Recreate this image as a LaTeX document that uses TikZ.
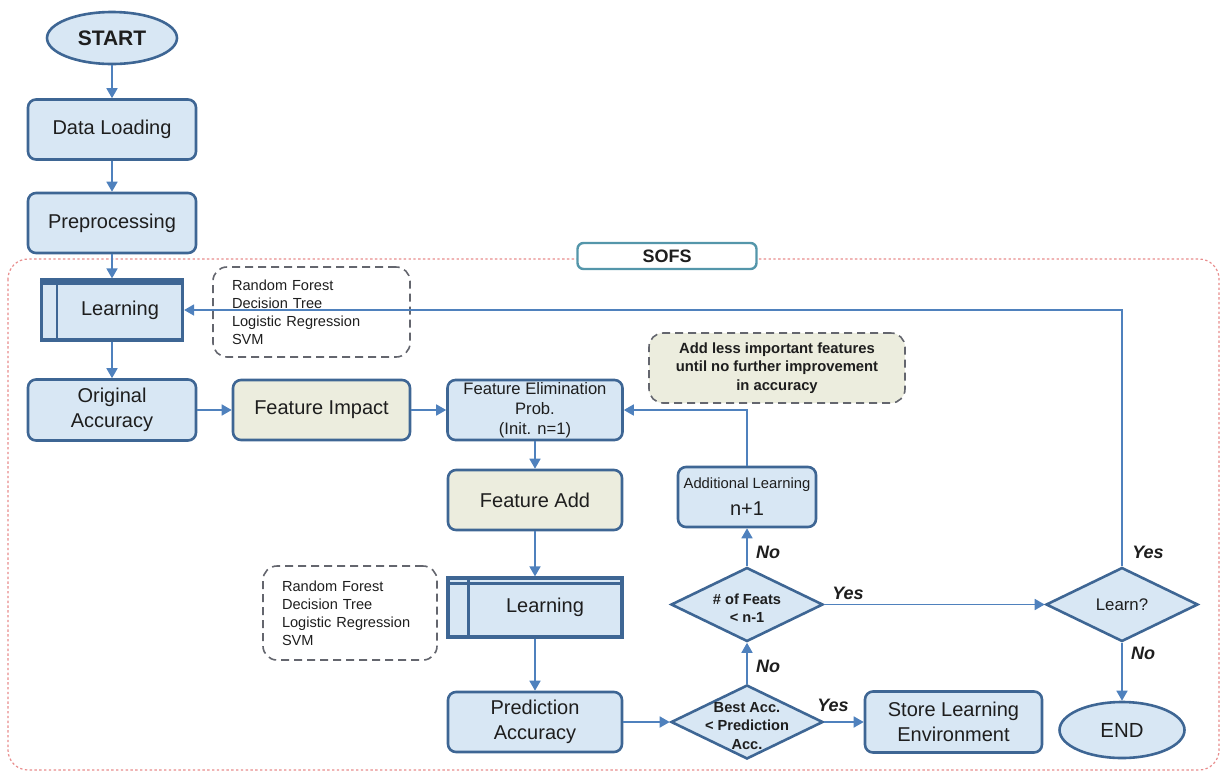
\documentclass[tikz,border=0pt]{standalone}
\usepackage{fontspec}
\setmainfont{Liberation Sans}
\usetikzlibrary{shapes.geometric,arrows.meta}
\definecolor{bdr}{RGB}{62,102,148}
\definecolor{conn}{RGB}{79,129,189}
\definecolor{lb}{RGB}{216,231,244}
\definecolor{beige}{RGB}{236,237,222}
\definecolor{frm}{RGB}{232,140,140}
\definecolor{sofsc}{RGB}{84,150,170}
\definecolor{dgray}{RGB}{100,102,110}
\definecolor{txt}{RGB}{30,30,30}
\begin{document}
\begin{tikzpicture}[x=0.5pt,y=-0.5pt,
  box/.style={draw=bdr,line width=1.3pt,fill=lb,rounded corners=4pt,align=center,inner sep=0pt,text=txt,font=\fontsize{10}{12.5}\selectfont},
  proc/.style={draw=bdr,line width=1.6pt,fill=lb,align=center,inner sep=0pt,text=txt,font=\fontsize{10}{12.5}\selectfont},
  term/.style={shape=ellipse,draw=bdr,line width=1.3pt,fill=lb,inner sep=0pt,text=txt},
  dia/.style={shape=diamond,draw=bdr,line width=1.3pt,fill=lb,minimum width=76pt,minimum height=37pt,inner sep=0pt,text=txt},
  diatext/.style={font=\fontsize{7.3}{9.2}\selectfont\bfseries,align=center,inner sep=0pt,text=txt},
  dbox/.style={draw=dgray,line width=0.8pt,dash pattern=on 4pt off 2.5pt,rounded corners=7pt,align=left,inner xsep=9.5pt,inner ysep=0pt,text=txt,font=\fontsize{7.3}{9}\selectfont},
  note/.style={draw=dgray,line width=0.8pt,dash pattern=on 4pt off 2.5pt,rounded corners=7pt,fill=beige,align=center,inner sep=0pt,text=txt,font=\fontsize{7.4}{9.2}\selectfont\bfseries},
  lab/.style={font=\fontsize{9}{10}\selectfont\bfseries\itshape,text=txt,inner sep=0pt},
  arr/.style={draw=conn,line width=0.85pt,-{Triangle[length=5pt,width=5.5pt]}}
]
\useasboundingbox (0,0) rectangle (1221,773);
% SOFS frame
\draw[frm,line width=0.6pt,dash pattern=on 1.2pt off 1.2pt,rounded corners=10pt] (8,259) rectangle (1219,770);
\node[draw=sofsc,line width=1.2pt,fill=white,rounded corners=3pt,minimum width=89.5pt,minimum height=13pt,inner sep=0pt,font=\fontsize{9}{10}\selectfont\bfseries,text=txt] (sofs) at (667,256) {SOFS};

% dashed notes
\node[dbox,text width=79.5pt,minimum height=45pt] (m1) at (311.5,312) {Random Forest\\Decision Tree\\Logistic Regression\\SVM};
\node[dbox,text width=68pt,minimum height=47pt] (m2) at (350,613) {Random Forest\\Decision Tree\\Logistic Regression\\SVM};
\node[note,minimum width=128pt,minimum height=35pt] (note) at (777,368) {Add less important features\\until no further improvement\\in accuracy};

% column 1
\node[term,minimum width=65pt,minimum height=26pt,font=\fontsize{10.5}{12}\selectfont\bfseries] (start) at (112,38) {START};
\node[box,minimum width=84pt,minimum height=30pt] (dl) at (112,129.5) {Data Loading};
\node[box,minimum width=84pt,minimum height=30pt] (pre) at (112,223) {Preprocessing};
\node[proc,minimum width=70.5pt,minimum height=30pt] (l1) at (112,310) {\hspace*{8pt}Learning};
\draw[bdr,line width=1.3pt] ([yshift=-2.5pt]l1.north west) -- ([yshift=-2.5pt]l1.north east);
\draw[bdr,line width=1.3pt] ([xshift=8.5pt]l1.north west) -- ([xshift=8.5pt]l1.south west);
\node[box,minimum width=84pt,minimum height=30.5pt] (oa) at (112,410) {Original\\Accuracy};

% middle
\node[box,fill=beige,minimum width=88.5pt,minimum height=30pt] (fi) at (321.5,410) {Feature Impact};
\node[box,minimum width=87.5pt,minimum height=30pt,font=\fontsize{8.3}{10}\selectfont] (fe) at (535,410) {Feature Elimination\\Prob.\\(Init. n=1)};
\node[box,fill=beige,minimum width=87pt,minimum height=30pt] (fa) at (535,500) {Feature Add};
\node[proc,minimum width=87pt,minimum height=29.5pt] (l2) at (535,607.5) {\hspace*{10pt}Learning};
\draw[bdr,line width=1.3pt] ([yshift=-3.5pt]l2.north west) -- ([yshift=-3.5pt]l2.north east);
\draw[bdr,line width=1.3pt] ([xshift=11pt]l2.north west) -- ([xshift=11pt]l2.south west);
\node[box,minimum width=87pt,minimum height=30pt] (pa) at (535,722) {Prediction\\Accuracy};

% decisions
\node[dia] (ba) at (747,722) {};
\node[diatext] (bat) at (747,726) {Best Acc.\\< Prediction\\Acc.};
\node[dia] (nf) at (747,604.5) {};
\node[diatext] (nft) at (747,608) {\# of Feats\\< n-1};
\node[box,minimum width=69pt,minimum height=30pt] (al) at (747,497) {{\fontsize{7.4}{9}\selectfont Additional Learning}\\[1pt]n+1};
\node[dia,font=\fontsize{8.4}{10}\selectfont] (lr) at (1122,604.5) {Learn?};
\node[term,minimum width=62.5pt,minimum height=28pt,font=\fontsize{10.2}{12}\selectfont] (end) at (1122,730) {END};
\node[box,minimum width=88.5pt,minimum height=30.5pt] (st) at (953.5,722) {Store Learning\\Environment};

% labels
\node[lab] (no1) at (768,552) {No};
\node[lab] (no2) at (768,666) {No};
\node[lab] (yes1) at (848,593) {Yes};
\node[lab] (yes2) at (833,705) {Yes};
\node[lab] (yes3) at (1148,552) {Yes};
\node[lab] (no3) at (1143,653) {No};

% connectors
\draw[arr] (start) -- (dl);
\draw[arr] (dl) -- (pre);
\draw[arr] (pre) -- (l1);
\draw[arr] (l1) -- (oa);
\draw[arr] (oa) -- (fi);
\draw[arr] (fi) -- (fe);
\draw[arr] (fe) -- (fa);
\draw[arr] (fa) -- (l2);
\draw[arr] (l2) -- (pa);
\draw[arr] (pa) -- (ba);
\draw[arr] (ba) -- (st);
\draw[arr] (ba) -- (nf);
\draw[arr] (nf) -- (al);
\draw[arr] (al.north) |- (fe.east);
\draw[arr] (nf) -- (lr);
\draw[arr] (lr.north) |- (l1.east);
\draw[arr] (lr) -- (end);
\end{tikzpicture}
\end{document}
